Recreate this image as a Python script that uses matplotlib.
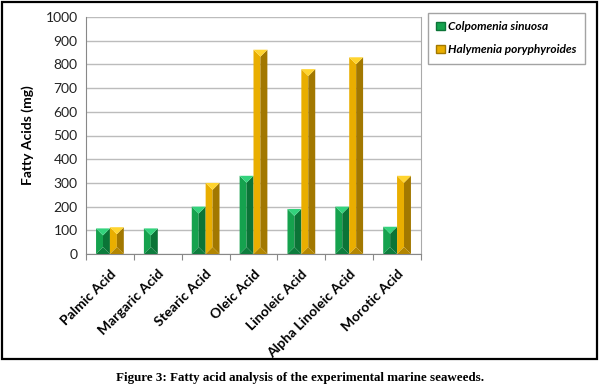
import numpy as np
import matplotlib
matplotlib.use("Agg")
import matplotlib.pyplot as plt
from matplotlib.patches import Polygon, Rectangle, Patch

# data
acids = ["Palmic Acid", "Margaric Acid", "Stearic Acid", "Oleic Acid",
         "Linoleic Acid", "Alpha Linoleic Acid", "Morotic Acid"]
colpomenia = [108, 108, 200, 330, 190, 200, 115]
halymenia = [113, 0, 300, 862, 780, 830, 330]
series_names = ["Colpomenia sinuosa", "Halymenia poryphyroides"]
y_ticks = list(range(0, 1001, 100))

# (left face, right face, top, bottom)
green = ("#15a24e", "#0b7437", "#33d27c", "#0d7d3d")
gold = ("#e9ae00", "#a27800", "#ffd42e", "#b38600")

plt.rcParams['font.family'] = ['Lato', 'DejaVu Sans']

fig = plt.figure(figsize=(6, 3.9), dpi=100)
ax = fig.add_axes([86 / 600, 1 - 254 / 390, 335 / 600, 237 / 390])

n = len(acids)
x = np.arange(n)
w = 0.29
ax.set_xlim(-0.5, n - 0.5)
ax.set_ylim(0, 1000)

# pixel -> data conversion for bevel size
ax_w_px = 335.0
ax_h_px = 237.0
ypp = 1000 / ax_h_px
xpp = n / ax_w_px


def bevel_bar(xl, h, cols):
    if h <= 0:
        return
    c_left, c_right, c_top, c_bot = cols
    xm = xl + w / 2
    xr = xl + w
    bev = (w / 2) / xpp * ypp  # triangle depth in data units
    bev = min(bev, h / 2)
    ax.add_patch(Polygon([(xl, 0), (xm, bev), (xm, h - bev), (xl, h)],
                         closed=True, fc=c_left, ec="none", zorder=3))
    ax.add_patch(Polygon([(xr, 0), (xm, bev), (xm, h - bev), (xr, h)],
                         closed=True, fc=c_right, ec="none", zorder=3))
    ax.add_patch(Polygon([(xl, h), (xr, h), (xm, h - bev)],
                         closed=True, fc=c_top, ec="none", zorder=3))
    ax.add_patch(Polygon([(xl, 0), (xr, 0), (xm, bev)],
                         closed=True, fc=c_bot, ec="none", zorder=3))


for i in range(n):
    bevel_bar(x[i] - w, colpomenia[i], green)
    bevel_bar(x[i], halymenia[i], gold)

# grid and axes
ax.set_yticks(y_ticks)
ax.yaxis.grid(True, color="#bcbcbc", linewidth=1.0, zorder=0)
ax.set_axisbelow(True)
ax.tick_params(axis="y", length=0, pad=6, labelsize=10, labelcolor="#222222")
ax.set_xticks(np.arange(-0.5, n, 1.0), minor=False)
ax.set_xticklabels([])
ax.set_xticks(x, minor=True)
ax.set_xticklabels(acids, minor=True, rotation=45, ha="right",
                   rotation_mode="anchor", fontsize=10, fontweight="bold")
ax.tick_params(axis="x", which="major", length=4, color="#888888")
ax.tick_params(axis="x", which="minor", length=0, pad=10)
for side in ["left", "bottom"]:
    ax.spines[side].set_color("#888888")
ax.spines["right"].set_color("#aaaaaa")
ax.spines["top"].set_visible(False)

ax.set_ylabel("Fatty Acids (mg)", fontsize=10, fontweight="bold", labelpad=8)

# legend
handles = [Patch(facecolor=green[0], edgecolor=green[1]),
           Patch(facecolor=gold[0], edgecolor=gold[1])]
leg = fig.legend(handles, series_names, loc="upper left",
                 bbox_to_anchor=(428 / 600, 1 - 13 / 390),
                 prop={"weight": "bold", "style": "italic", "size": 8.6},
                 frameon=True, fancybox=False, handlelength=0.7,
                 handleheight=0.7, handletextpad=0.3, labelspacing=1.0,
                 borderpad=0.7, borderaxespad=0, edgecolor="#8c8c8c")
leg.get_frame().set_linewidth(1.0)

# outer frame
fig.patches.append(Rectangle((2 / 600, 1 - 359 / 390), 595 / 600, 357 / 390,
                             transform=fig.transFigure, fill=False,
                             ec="black", lw=1.6))

fig.text(0.5, 1 - 378 / 390,
         "Figure 3: Fatty acid analysis of the experimental marine seaweeds.",
         ha="center", va="center", fontsize=9.4, fontweight="bold",
         family=["Liberation Serif", "DejaVu Serif"])

fig.savefig("out.png", dpi=100)
